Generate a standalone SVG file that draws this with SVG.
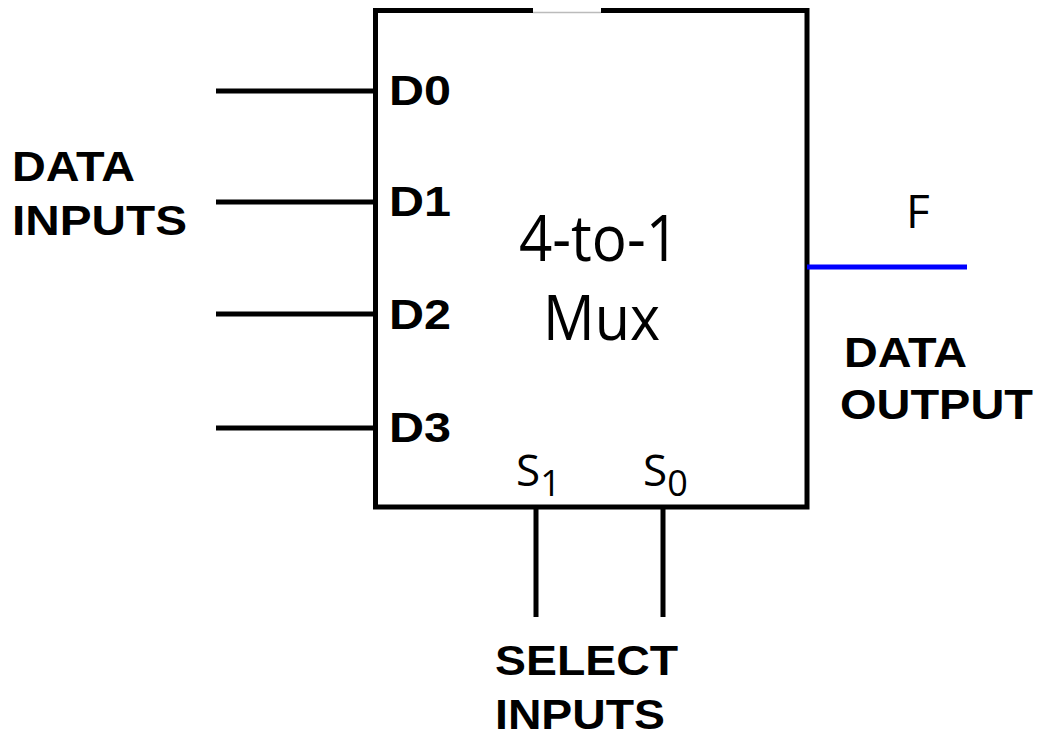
<svg xmlns="http://www.w3.org/2000/svg" width="1042" height="736" viewBox="0 0 1042 736">
<style>
.w{stroke:#000;stroke-width:5;fill:none}
.b{font-family:"Liberation Sans",Arial,sans-serif;font-weight:bold;fill:#000;font-size:43px}
.n{font-family:"Open Sans","Noto Sans",sans-serif;fill:#000}
</style>
<rect width="1042" height="736" fill="#fff"/>
<g id="mux">
<path class="w" d="M533 10.5H375.5V507H807V10.5H601"/>
<path d="M533 12.5H601" stroke="#bbb" stroke-width="1.5"/>
<text class="n" x="519" y="261" font-size="64" textLength="160" lengthAdjust="spacingAndGlyphs">4-to-1</text>
<text class="n" x="543" y="340" font-size="62" textLength="117" lengthAdjust="spacingAndGlyphs">Mux</text>
<text class="b" x="389" y="105" textLength="62" lengthAdjust="spacingAndGlyphs">D0</text>
<text class="b" x="389" y="216" textLength="62" lengthAdjust="spacingAndGlyphs">D1</text>
<text class="b" x="389" y="329" textLength="62" lengthAdjust="spacingAndGlyphs">D2</text>
<text class="b" x="389" y="442" textLength="62" lengthAdjust="spacingAndGlyphs">D3</text>
<text class="n" x="516" y="486" font-size="44">S<tspan font-size="36" dy="10">1</tspan></text>
<text class="n" x="643" y="486" font-size="44">S<tspan font-size="36" dy="10">0</tspan></text>
</g>
<g id="connectors">
<path class="w" d="M216 91H375M216 202H375M216 314H375M216 428H375M536 507V617M663 507V617"/>
<path d="M807 267H967" stroke="#0000ff" stroke-width="5"/>
</g>
<g id="labels">
<text class="b" x="12" y="181" textLength="123" lengthAdjust="spacingAndGlyphs">DATA</text>
<text class="b" x="12" y="235" textLength="175" lengthAdjust="spacingAndGlyphs">INPUTS</text>
<text class="n" x="906" y="228" font-size="46">F</text>
<text class="b" x="844" y="367" textLength="123" lengthAdjust="spacingAndGlyphs">DATA</text>
<text class="b" x="840" y="419" textLength="193" lengthAdjust="spacingAndGlyphs">OUTPUT</text>
<text class="b" x="495" y="675" textLength="183" lengthAdjust="spacingAndGlyphs">SELECT</text>
<text class="b" x="495" y="729" textLength="170" lengthAdjust="spacingAndGlyphs">INPUTS</text>
</g>
</svg>
